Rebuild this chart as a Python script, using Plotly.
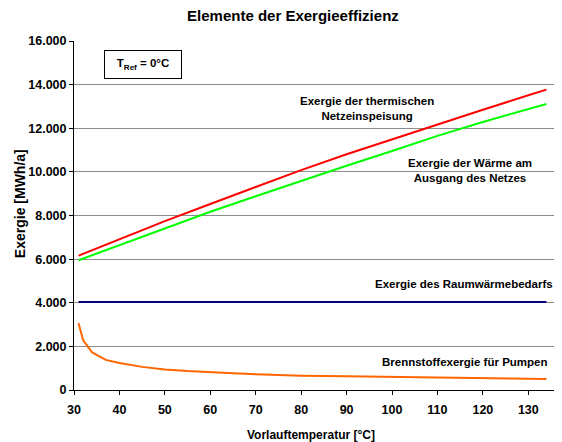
import plotly.graph_objects as go

# Vorlauftemperatur [°C]
x_red = [31, 40, 50, 60, 70, 80, 90, 100, 110, 120, 130, 134]
red_vals = [6160, 6920, 7740, 8530, 9320, 10080, 10810, 11500, 12190, 12850, 13510, 13770]

x_green = [31, 40, 50, 60, 70, 80, 90, 100, 110, 120, 130, 134]
green_vals = [5950, 6650, 7420, 8170, 8880, 9590, 10280, 10960, 11650, 12290, 12880, 13115]

x_blue = [31, 134]
blue_vals = [4030, 4030]

x_orange = [31, 32, 33, 34, 37, 40, 45, 50, 55, 60, 65, 70, 80, 90, 100, 110, 120, 130, 134]
orange_vals = [3060, 2290, 2000, 1720, 1380, 1240, 1060, 945, 870, 810, 770, 725, 655, 625,
               600, 575, 545, 515, 505]

x_ticks = [30, 40, 50, 60, 70, 80, 90, 100, 110, 120, 130]
y_ticks = [0, 2000, 4000, 6000, 8000, 10000, 12000, 14000, 16000]

FONT = "Liberation Sans, Arial, sans-serif"


def f(size):
    return dict(family=FONT, size=size, color="black", weight="bold")


fig = go.Figure()
fig.add_trace(go.Scatter(x=x_red, y=red_vals, mode="lines",
                         line=dict(color="#FF0000", width=2), hoverinfo="skip"))
fig.add_trace(go.Scatter(x=x_green, y=green_vals, mode="lines",
                         line=dict(color="#00FF00", width=2), hoverinfo="skip"))
fig.add_trace(go.Scatter(x=x_blue, y=blue_vals, mode="lines",
                         line=dict(color="#000080", width=2), hoverinfo="skip"))
fig.add_trace(go.Scatter(x=x_orange, y=orange_vals, mode="lines",
                         line=dict(color="#FF6600", width=2), hoverinfo="skip"))

labels = [
    ("Exergie der thermischen<br>Netzeinspeisung", 0.590, 0.807),
    ("Exergie der Wärme am<br>Ausgang des Netzes", 0.7977, 0.629),
    ("Exergie des Raumwärmebedarfs", 0.7858, 0.303),
    ("Brennstoffexergie für Pumpen", 0.7882, 0.0795),
]
ann_list = []
for text, ax, ay in labels:
    ann_list.append(dict(text=text, x=ax, y=ay, xref="paper", yref="paper",
                         xanchor="center", yanchor="middle", showarrow=False,
                         align="center", font=f(11.5)))
ann_list.append(dict(text="T<sub>Ref</sub> = 0°C", x=0.1392, y=0.933,
                     xref="paper", yref="paper", xanchor="center", yanchor="middle",
                     showarrow=False, bordercolor="black", borderwidth=1,
                     borderpad=3, bgcolor="white", width=70, height=21,
                     font=f(11.5)))
# axis titles
ann_list.append(dict(text="Exergie [MWh/a]", x=-0.1101, y=0.5336, xref="paper",
                     yref="paper", xanchor="center", yanchor="middle", textangle=-90,
                     showarrow=False, font=f(14)))
ann_list.append(dict(text="Vorlauftemperatur [°C]", x=0.4775, y=-0.129, xref="paper",
                     yref="paper", xanchor="center", yanchor="middle",
                     showarrow=False, font=f(12)))

fig.update_layout(
    width=562, height=442,
    margin=dict(l=66.3, r=0, t=33.4, b=60),
    paper_bgcolor="white", plot_bgcolor="white",
    showlegend=False,
    separators=",.",
    title=dict(text="Elemente der Exergieeffizienz", x=0.507, xanchor="center",
               y=0.982, yanchor="middle", font=f(15)),
    annotations=ann_list,
)
fig.update_xaxes(range=[30, 139.18], tickvals=x_ticks, ticks="outside", ticklen=4,
                 tickcolor="black", showline=True, linecolor="black", linewidth=1,
                 showgrid=False, zeroline=False, automargin=False,
                 ticklabelstandoff=4, tickfont=f(12.5))
fig.update_yaxes(range=[0, 16000], tickvals=y_ticks, tickformat=",.0f", ticks="outside",
                 ticklen=4, tickcolor="black", showline=True, linecolor="black",
                 linewidth=1, showgrid=True, gridcolor="#8c8c8c", gridwidth=1,
                 zeroline=False, automargin=False, tickfont=f(12.5))

fig.write_html("out.html")
